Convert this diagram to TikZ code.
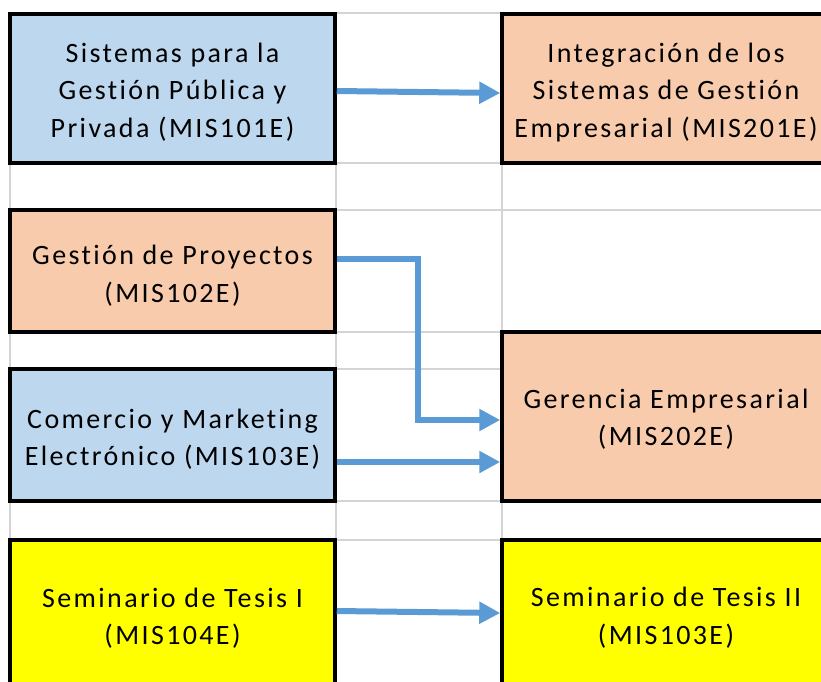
\documentclass[tikz,border=0pt]{standalone}
\usepackage{fontspec}
\setmainfont{Carlito}[LetterSpace=8.5,Ligatures=NoCommon]
\usetikzlibrary{arrows.meta}
\definecolor{cblue}{HTML}{BDD7EE}
\definecolor{cpeach}{HTML}{F8CBAD}
\definecolor{cyell}{HTML}{FFFF00}
\definecolor{carrow}{HTML}{5B9BD5}
\definecolor{cgrid}{HTML}{D4D4D4}
\newcommand{\bxt}[2]{\raisebox{-#1}[\height][\depth]{\begin{tabular}{@{}c@{}}#2\end{tabular}}}
\tikzset{
  box/.style={draw=black, line width=3.5pt, rectangle, inner sep=0pt,
    font=\fontsize{28}{37.5}\selectfont},
  lbox/.style={box, minimum width=325pt},
  rbox/.style={box, minimum width=328pt},
  arr/.style={draw=carrow, line width=6pt, -{Triangle[length=21pt,width=21pt]}},
  gridl/.style={draw=cgrid, line width=1.5pt}
}
\begin{document}
\begin{tikzpicture}[x=1pt,y=-1pt]
\useasboundingbox (0,0) rectangle (821,681);
\clip (0,0) rectangle (821,681);
% spreadsheet grid
\foreach \yy in {13,163,210,332,369,501,540} \draw[gridl] (10,\yy) -- (821,\yy);
\foreach \xx in {10,336,502} \draw[gridl] (\xx,13) -- (\xx,681);
% boxes
\node[lbox, fill=cblue, minimum height=149pt] (n1) at (172.5,88.5) {\bxt{3.5pt}{Sistemas para la\\Gestión Pública y\\Privada (MIS101E)}};
\node[lbox, fill=cpeach, minimum height=122pt] (n2) at (172.5,271) {\bxt{5pt}{Gestión de Proyectos\\(MIS102E)}};
\node[lbox, fill=cblue, minimum height=132pt] (n3) at (172.5,435) {\bxt{4.25pt}{Comercio y Marketing\\Electrónico (MIS103E)}};
\node[lbox, fill=cyell, minimum height=152pt] (n4) at (172.5,616) {\bxt{2.25pt}{Seminario de Tesis I\\(MIS104E)}};
\node[rbox, fill=cpeach, minimum height=149pt] (r1) at (666,88.5) {\bxt{3.5pt}{Integración de los\\Sistemas de Gestión\\Empresarial (MIS201E)}};
\node[rbox, fill=cpeach, minimum height=169pt] (r2) at (666,416.5) {\bxt{2.75pt}{Gerencia Empresarial\\(MIS202E)}};
\node[rbox, fill=cyell, minimum height=152pt] (r3) at (666,616) {\bxt{2pt}{Seminario de Tesis II\\(MIS103E)}};
% connectors
\draw[arr] ([yshift=-2.5pt]n1.east) -- ([yshift=-4.5pt]r1.west);
\draw[arr] ([yshift=12pt]n2.east) -| ([xshift=-82pt,yshift=-3.5pt]r2.west) -- ([yshift=-3.5pt]r2.west);
\draw[arr] ([yshift=-27pt]n3.east) -- ([yshift=-45.5pt]r2.west);
\draw[arr] ([yshift=5pt]n4.east) -- ([yshift=3pt]r3.west);
\end{tikzpicture}
\end{document}
